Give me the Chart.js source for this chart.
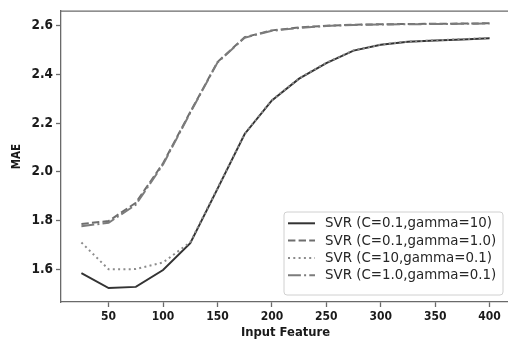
<!DOCTYPE html>
<html><head><meta charset="utf-8">
<script src="https://cdn.jsdelivr.net/npm/chart.js@4"></script>
<style>
html,body{margin:0;padding:0;overflow:hidden;background:#fff;width:508px;height:342px}
#wrap{position:absolute;left:0;top:0;width:600px;height:342px}
</style>
</head><body><div id="wrap"><canvas id="c"></canvas></div>
<script>
const inputFeature = [25,50,75,100,125,150,175,200,225,250,275,300,325,350,375,400];
const svrC01g10  = [1.584,1.523,1.528,1.597,1.707,1.930,2.155,2.293,2.382,2.446,2.497,2.521,2.533,2.538,2.543,2.548];
const svrC01g1   = [1.786,1.798,1.873,2.035,2.245,2.450,2.552,2.580,2.592,2.599,2.603,2.605,2.606,2.607,2.608,2.609];
const svrC10g01  = [1.710,1.600,1.601,1.628,1.711,1.932,2.156,2.294,2.383,2.447,2.498,2.522,2.534,2.539,2.544,2.549];
const svrC1g01   = [1.777,1.791,1.865,2.030,2.242,2.448,2.550,2.578,2.590,2.598,2.602,2.604,2.605,2.606,2.607,2.608];
const seriesLabels = ['SVR (C=0.1,gamma=10)','SVR (C=0.1,gamma=1.0)','SVR (C=10,gamma=0.1)','SVR (C=1.0,gamma=0.1)'];
const xTicks = [50,100,150,200,250,300,350,400];
const yTicks = [1.6,1.8,2.0,2.2,2.4,2.6];
const xLabel = 'Input Feature';
const yLabel = 'MAE';

const tickFont = "'DejaVu Sans Condensed','DejaVu Sans',sans-serif";

function pts(arr){ return inputFeature.map((x,i)=>({x:x,y:arr[i]})); }

const styles = [
  {color:'#333333', dash:[]},
  {color:'#6e6e6e', dash:[7.4,3.2]},
  {color:'#8c8c8c', dash:[2,3.3]},
  {color:'#7c7c7c', dash:[12.9,3.2,2,3.2]}
];
const seriesData = [svrC01g10, svrC01g1, svrC10g01, svrC1g01];

const datasets = seriesData.map((d,i)=>({
  label: seriesLabels[i],
  data: pts(d),
  borderColor: styles[i].color,
  borderDash: styles[i].dash,
  borderWidth: 2,
  pointRadius: 0,
  fill: false,
  tension: 0,
  order: 4 - i
}));

const legendPlugin = {
  id: 'innerLegend',
  afterDraw(chart){
    const ctx = chart.ctx;
    const bx = 284, by = 212, bw = 219, bh = 83, r = 3;
    ctx.save();
    ctx.beginPath();
    ctx.moveTo(bx+r,by); ctx.lineTo(bx+bw-r,by); ctx.arcTo(bx+bw,by,bx+bw,by+r,r);
    ctx.lineTo(bx+bw,by+bh-r); ctx.arcTo(bx+bw,by+bh,bx+bw-r,by+bh,r);
    ctx.lineTo(bx+r,by+bh); ctx.arcTo(bx,by+bh,bx,by+bh-r,r);
    ctx.lineTo(bx,by+r); ctx.arcTo(bx,by,bx+r,by,r);
    ctx.closePath();
    ctx.fillStyle = 'rgba(255,255,255,0.85)';
    ctx.fill();
    ctx.strokeStyle = '#d0d0d0';
    ctx.lineWidth = 1;
    ctx.stroke();
    chart.data.datasets.forEach((ds,i)=>{
      const yc = 223.3 + i*17.3;
      ctx.beginPath();
      ctx.setLineDash(ds.borderDash);
      ctx.strokeStyle = ds.borderColor;
      ctx.lineWidth = ds.borderWidth;
      ctx.moveTo(288, yc); ctx.lineTo(315, yc);
      ctx.stroke();
      ctx.setLineDash([]);
      ctx.fillStyle = '#262626';
      ctx.font = "13.4px 'DejaVu Sans',sans-serif";
      ctx.textBaseline = 'middle';
      ctx.textAlign = 'left';
      ctx.fillText(ds.label, 325, yc+0.5);
    });
    ctx.restore();
  }
};

const topSpine = {
  id: 'topSpine',
  afterDraw(chart){
    const a = chart.chartArea, ctx = chart.ctx;
    ctx.save();
    ctx.strokeStyle = '#6a6a6a';
    ctx.lineWidth = 1.3;
    ctx.beginPath();
    ctx.moveTo(a.left, a.top); ctx.lineTo(a.right, a.top);
    ctx.stroke();
    ctx.restore();
  }
};

new Chart(document.getElementById('c'), {
  type: 'line',
  data: { datasets },
  options: {
    responsive: true,
    maintainAspectRatio: false,
    devicePixelRatio: 1,
    animation: false,
    layout: { padding: { left: 0, right: 90, top: 11, bottom: 0 } },
    plugins: { legend: { display: false }, tooltip: { enabled: false } },
    scales: {
      x: {
        type: 'linear',
        min: 6.25, max: 418.75,
        afterBuildTicks(s){ s.ticks = xTicks.map(v=>({value:v})); },
        afterFit(s){ s.height = 40; },
        ticks: { color:'#1a1a1a', font:{family:tickFont, size:12, weight:'bold'}, padding: 3, maxRotation:0, autoSkip:false,
                 callback: v => String(v) },
        grid: { drawOnChartArea:false, drawTicks:true, tickLength:5, color:'#6a6a6a', tickWidth:1.3 },
        border: { display:true, color:'#6a6a6a', width:1.3 },
        title: { display:true, text:xLabel, color:'#1a1a1a', font:{family:tickFont, size:12.9, weight:'bold'}, padding:{top:0,bottom:2} }
      },
      y: {
        type: 'linear',
        min: 1.466, max: 2.659,
        afterBuildTicks(s){ s.ticks = yTicks.map(v=>({value:v})); },
        afterFit(s){ s.width = 61; },
        ticks: { color:'#1a1a1a', font:{family:tickFont, size:13.5, weight:'bold'}, padding: 3, autoSkip:false,
                 callback: v => Number(v).toFixed(1) },
        grid: { drawOnChartArea:false, drawTicks:true, tickLength:5, color:'#6a6a6a', tickWidth:1.3 },
        border: { display:true, color:'#6a6a6a', width:1.3 },
        title: { display:true, text:yLabel, color:'#1a1a1a', font:{family:tickFont, size:11.5, weight:'bold'}, padding:{top:10,bottom:0} }
      }
    }
  },
  plugins: [legendPlugin, topSpine]
});
</script>
</body></html>
